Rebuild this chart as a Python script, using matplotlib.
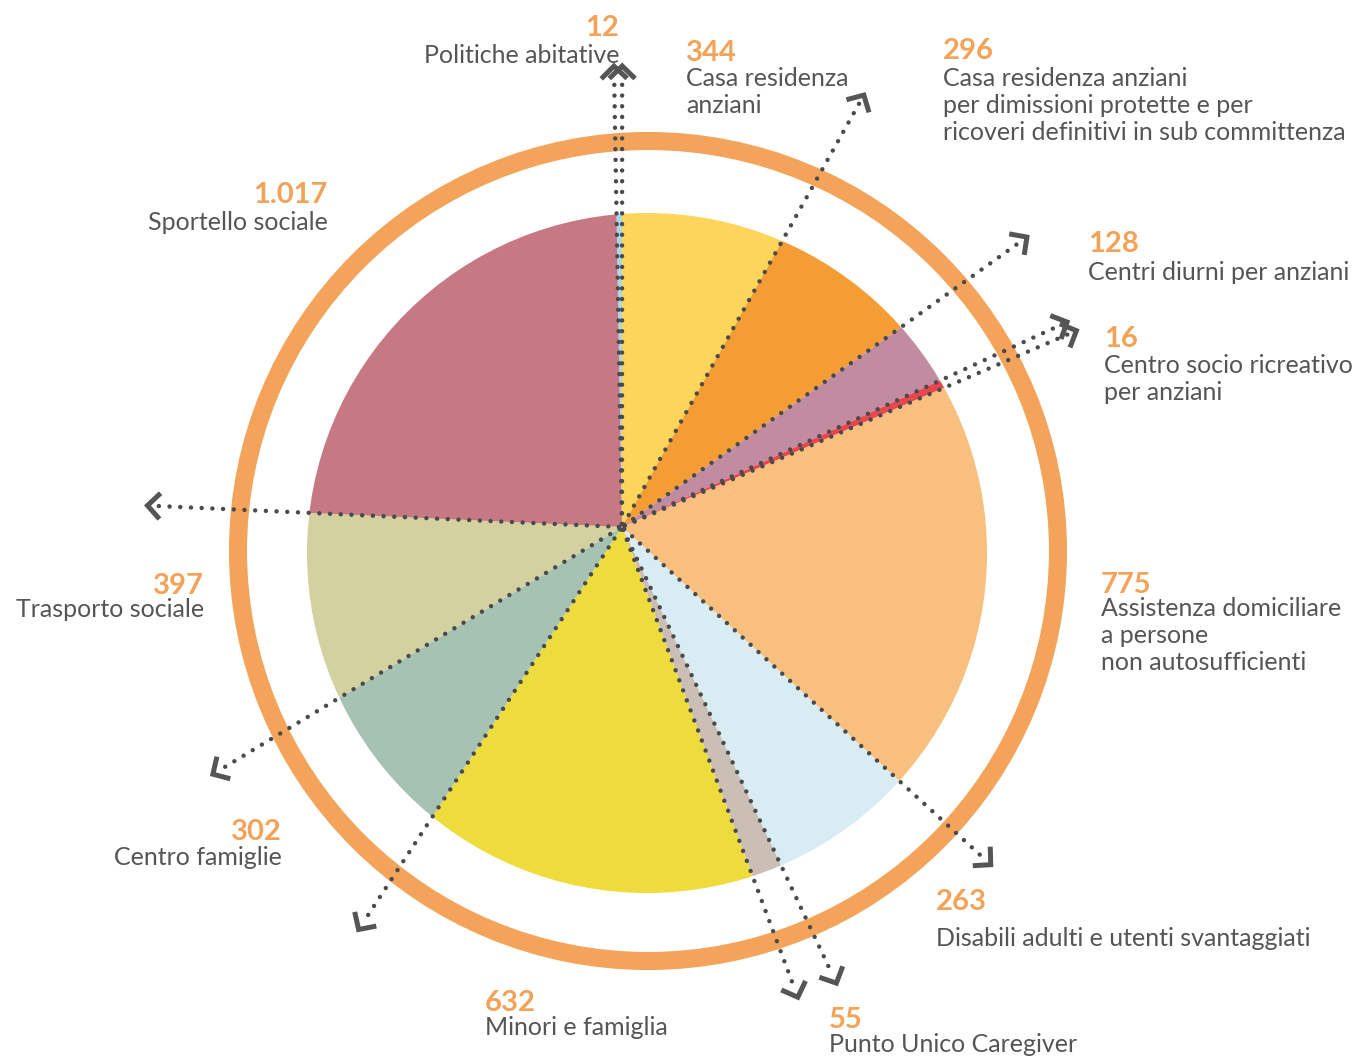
import numpy as np
import matplotlib.pyplot as plt
from matplotlib.patches import Circle

# dati: utenti per servizio
categories = ['Politiche abitative',
              'Casa residenza\nanziani',
              'Casa residenza anziani\nper dimissioni protette e per\nricoveri definitivi in sub committenza',
              'Centri diurni per anziani',
              'Centro socio ricreativo\nper anziani',
              'Assistenza domiciliare\na persone\nnon autosufficienti',
              'Disabili adulti e utenti svantaggiati',
              'Punto Unico Caregiver',
              'Minori e famiglia',
              'Centro famiglie',
              'Trasporto sociale',
              'Sportello sociale']
values = [12, 344, 296, 128, 16, 775, 263, 55, 632, 302, 397, 1017]
value_labels = ['12', '344', '296', '128', '16', '775', '263', '55', '632', '302', '397', '1.017']
colors = ['#A9D8E6', '#FDD55B', '#F39D34', '#C18C9F', '#E9474F', '#F8BF7F',
          '#D7ECF3', '#CABEB5', '#EEDC3C', '#A6C2B3', '#D3D1A0', '#C77983']

# layout (pixel coords, y from top)
W, H = 1359, 1057
apex = np.array([622, H - 527])
pie_center = (647, H - 553)
# x, number baseline, first label baseline, alignment
label_pos = [(619, 36, 63, 'right'), (686, 61, 86, 'left'), (943, 59, 86, 'left'),
             (1088, 252, 280, 'left'), (1104, 347, 373, 'left'), (1101, 593, 616, 'left'),
             (936, 910, 946, 'left'), (829, 1028, 1052, 'left'), (485, 1011, 1035, 'left'),
             (282, 840, 865, 'right'), (204, 594, 617, 'right'), (328, 203, 230, 'right')]
arrow_len = [461, 461, 495, 498, 490, 495, 500, 504, 502, 481, 478, 475]
line_gap = 27
start = 91.0

fig = plt.figure(figsize=(W / 100, H / 100), dpi=100)
ax = fig.add_axes([0, 0, 1, 1])

wedges, _ = ax.pie(values, colors=colors, startangle=start, counterclock=False,
                   radius=400, center=tuple(apex), wedgeprops=dict(linewidth=0))
clip = Circle(pie_center, 340, transform=ax.transData)
for w in wedges:
    w.set_clip_on(True)
    w.set_clip_path(clip)

ax.add_patch(Circle((648, H - 551), 410, fill=False, ec='#F3A45A', lw=13, zorder=3))

# frecce tratteggiate sui bordi degli spicchi
cum = np.concatenate([[0], np.cumsum(values)[:-1]])
angles = np.radians(start - cum / sum(values) * 360)
for a, L in zip(angles, arrow_len):
    u = np.array([np.cos(a), np.sin(a)])
    p0 = apex + u * 3
    p1 = apex + u * (L - 9)
    ax.plot([p0[0], p1[0]], [p0[1], p1[1]], ls=(0, (0.01, 2.4)), lw=3.2,
            color='#4a4a4a', dash_capstyle='round', zorder=4)
    tip = apex + u * L
    pts = []
    for s in (0.8, 0, -0.8):
        if s == 0:
            pts.append(tip)
        else:
            r = np.array([[np.cos(s), -np.sin(s)], [np.sin(s), np.cos(s)]])
            pts.append(tip - 18 * (r @ u))
    pts = np.array(pts)
    ax.plot(pts[:, 0], pts[:, 1], lw=3.6, color='#555555', solid_joinstyle='miter',
            solid_capstyle='butt', zorder=4)

for cat, vl, (x, yn, yl, ha) in zip(categories, value_labels, label_pos):
    ax.text(x, H - yn, vl, ha=ha, va='baseline', fontsize=21, fontweight='bold',
            color='#F3A257', family='Lato')
    for i, line in enumerate(cat.split('\n')):
        ax.text(x, H - yl - i * line_gap, line, ha=ha, va='baseline', fontsize=18,
                color='#555555', family='Lato')

ax.set_xlim(0, W)
ax.set_ylim(0, H)
ax.set_aspect('equal')
ax.axis('off')
fig.savefig('out.png', dpi=100, facecolor='white')
